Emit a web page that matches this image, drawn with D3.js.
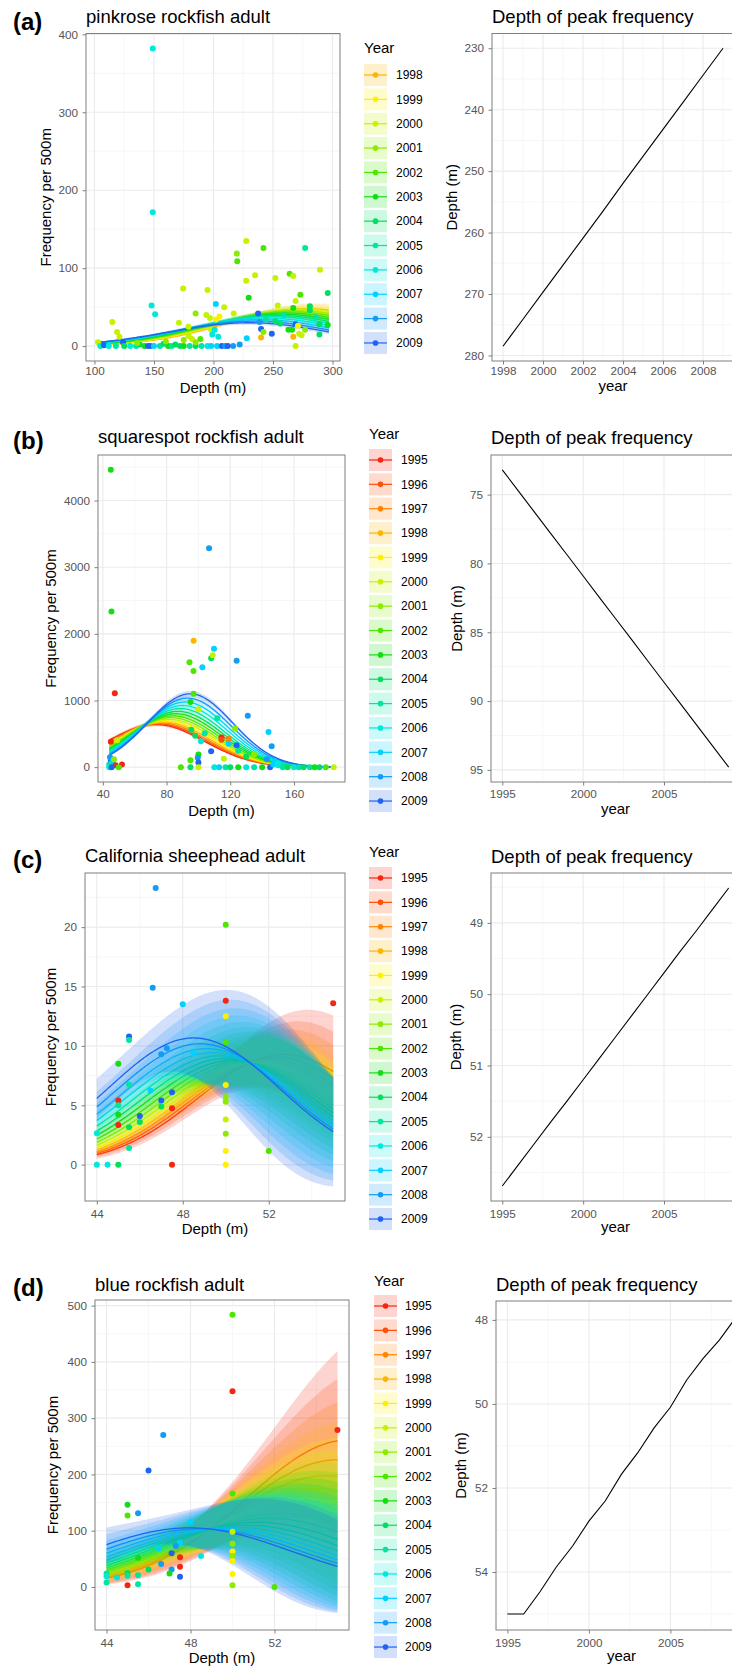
<!DOCTYPE html>
<html><head><meta charset="utf-8">
<script src="https://cdn.jsdelivr.net/npm/d3@7"></script>
<style>
body{margin:0;background:#fff}
svg{display:block}
text{font-family:"Liberation Sans",Arial,Helvetica,sans-serif}
</style>
</head><body>
<svg id="chart" width="732" height="1668"></svg>
<script>
// ---------------- DATA ----------------
const allYears = [1995,1996,1997,1998,1999,2000,2001,2002,2003,2004,2005,2006,2007,2008,2009];
const yearColors = ["#F5260F","#FF4D0A","#FF8400","#FFB400","#FFF000","#C6F200","#8CEB00","#4DE600","#13DD13","#00E060","#00E6A0","#00E8DC","#00D2FF","#129CF5","#1E64F0"];

// (a) pinkrose rockfish adult
const pinkroseYears = [1998,1999,2000,2001,2002,2003,2004,2005,2006,2007,2008,2009];
const pinkrosePeakDepth = [278.5,274.1,269.7,265.3,260.9,256.5,252.0,247.6,243.2,238.8,234.4,230.0];
const pinkroseCurveHeight = [48,47,45.5,44,42.5,41,39.5,38,36,34,32,30];
const pinkroseCurveWidth = 67;
const pinkrosePoints = [
 [149,382,2006],[149,171.6,2006],[148,52,2006],[151,41,2006],[202,54,2007],
 [115,31,2000],[119,18,2000],[121,12,2000],[174.5,74,2000],[195,72,2000],
 [185,42,2001],[194,40,2000],[197,36,2000],[205,38,1999],[209,50,2000],[217,42,2000],
 [219.6,118.7,2001],[220,109,2002],[227.5,135,2000],[227.5,84,2000],[229.6,62,2003],
 [235,91,2000],[242,126,2002],[252,87.5,2000],[254,52,2000],[264,93,2002],[267,90,2000],
 [277,126,2005],[289.5,98,2000],[296,68,2004],[273,66,2002],[269,58,2000],[267,49,2003],
 [281,51,2004],[281,46,2004],[237.5,42,2009],[238.8,31,2008],[240,22,2009],[249,16,2009],
 [269,28,2009],[267,12,1998],[269,0,2000],[240,11,1998],[242,18,2001],[228,10,2007],
 [222,2,2008],[216.5,0,2008],[171,30,2000],[179,25,2000],[189,9,2002],[179,13,2000],
 [182,9,2000],[198,21,2000],[202,34,1999],[201,21,2006],[199,15,2006],[204,12,2006],
 [263,21,2003],[266,21,2003],[271,26,1999],[272,16,2000],[274,14,2000],[277,21,2001],
 [286,37,2005],[289,28,2004],[289,15,2004],[296,27,2003],[259,40,2005],[252,32,2004],
 [244,34,2005],[256,29,2004],
 [103,5,2000],[105,0,2006],[108,1,2009],[112,0,2006],[118,0,2005],[124,5,2009],[125,0,2004],
 [130,0,2006],[135,0,2005],[138,2,2004],[142,0,2003],[145,0,2009],[147,0,2009],[150,0,2007],
 [155,0,2005],[158,3,2004],[162,0,2003],[165,0,2005],[168,2,2004],[172,0,2004],[175,0,2003],
 [180,0,2005],[185,0,2004],[190,0,2005],[195,0,2006],[198,0,2007],[203,0,2007],[207,0,2009],
 [210,0,2008],[212,0,2009],[136,4,2001],[160,6,2001],[175,8,2001],[185,5,2001]
];

// (b) squarespot rockfish adult
const squarespotYears = allYears;
const squarespotPeakDepth = [73.2,74.74,76.29,77.83,79.37,80.91,82.46,84.0,85.54,87.09,88.63,90.17,91.71,93.26,94.8];
const squarespotCurveHeight = [640,650,663,678,696,717,742,768,801,837,879,925,977,1035,1100];
const squarespotCurveWidth = [30.5,30.2,29.9,29.7,29.4,29.1,28.8,28.6,28.3,28.0,27.7,27.5,27.2,26.9,26.6];
const squarespotPoints = [
 [45,4460,2003],[45.4,2334,2003],[47.5,1110,1995],[45,379,1995],[49,405,2000],
 [97,1895,1998],[94.4,1573,2002],[96.9,1443,2002],[102.5,1500,2007],[106.7,3284,2008],
 [109.8,1776,2007],[108,1633,2004],[109,1680,2000],[124,1597,2008],[97,1100,2002],
 [95,976,2003],[100,870,2000],[131,772,2008],[144,528,2007],[146,315,2008],
 [111.8,733,2005],[123,580,2001],[95.5,560,2004],[98,470,2004],[101.6,390,2006],
 [104,510,2005],[114.5,445,1995],[114.5,410,1996],[119,425,1997],[108,240,2009],
 [124,330,2009],[100,190,2003],[95,105,2002],[99.6,140,2008],[100,70,2009],
 [119,350,2007],[125,245,2005],[135,190,2001],[130,160,2004],[116,125,2000],
 [45,100,2009],[46,50,2009],[44.5,150,2008],[46,80,2007],[47,120,2001],[44,40,2005],
 [47.5,30,2006],[48,30,1995],[52,40,1995],[44,0,2006],[45.5,0,2009],
 [50,0,2002],[89,0,2002],[95,0,2004],[100,0,2000],[110,0,2006],[113,0,2007],[117,0,2005],
 [120,0,2004],[125,0,2003],[130,0,2006],[135,0,2005],[140,0,2003],[145,0,2009],[147,40,2007],
 [150,30,2006],[153,0,2005],[156,0,2004],[160,0,2006],[163,0,2005],[166,0,2004],[170,0,2005],
 [173,0,2003],[176,0,2004],[180,0,2002],[185,0,2000],[148,90,2007],[150,60,2006],[143,120,2008]
];

// (c) California sheephead adult
const sheepheadYears = allYears;
const sheepheadPeakDepth = [52.69,52.39,52.09,51.79,51.50,51.20,50.90,50.60,50.30,50.00,49.70,49.40,49.11,48.81,48.51];
const sheepheadCurveHeight = [9.29,9.04,8.85,8.71,8.63,8.59,8.60,8.66,8.78,8.94,9.16,9.44,9.77,10.18,10.67];
const sheepheadCurveWidth = 3.96;
const sheepheadPoints = [
 [46.74,23.3,2008],[50,20.2,2002],[46.6,14.9,2008],[48,13.5,2007],[50,13.8,1995],[55,13.6,1995],
 [50,12.5,1999],[45.5,10.8,2009],[45.5,10.5,2005],[50,10.3,2002],[47.26,9.8,2008],[47,9.3,2008],
 [48.5,9.4,2007],[45,8.5,2003],[45.5,6.75,2005],[46.5,6.25,2007],[50,6.7,1999],[47.5,6.1,2009],
 [47,5.4,2009],[45,5.4,1995],[45,5.0,2005],[47,4.9,2004],[50,5.7,2001],[50,5.3,2001],
 [47.5,4.75,1995],[45,4.2,2003],[46,4.1,2009],[45,3.35,1995],[45.5,3.15,2004],[46,3.6,2004],
 [44,2.65,2006],[50,3.8,2000],[50,2.6,2001],[45.5,1.4,2005],[50,1.15,1999],[52,1.15,2002],
 [44,0,2006],[44.5,0,2006],[45,0,2004],[47.5,0,1995],[50,0,1999]
];

// (d) blue rockfish adult
const blueYears = allYears;
const bluePeakDepth = [55.0,55.0,54.47,53.88,53.38,52.79,52.31,51.67,51.16,50.57,50.08,49.43,48.92,48.48,47.95];
const blueCurvePeak = [55.54,55.0,54.46,53.91,53.37,52.83,52.29,51.75,51.2,50.66,50.12,49.58,49.04,48.49,47.95];
const blueCurveHeight = [261.4,226.0,197.7,174.8,156.8,142.5,131.0,122.0,114.9,109.7,106.1,103.9,102.9,103.3,105.0];
const blueCurveWidth = 4.85;
const bluePoints = [
 [50,483.6,2002],[50,348,1995],[55,279,1995],[46.7,270,2008],[46,207,2009],[45,146,2003],
 [45,127,2002],[45.5,131,2008],[50,166,2002],[48,115,2007],[50,98,2000],[50,77,2001],
 [50,63,1999],[50,55,2001],[50,46,1999],[50,23,1999],[50,3,2001],[52,0,2002],[46.6,41,2008],
 [45.5,52,2003],[46.5,69,2007],[47.5,79,2007],[47.1,60,2009],[47.3,73,2008],[47.5,53,1995],
 [47.5,36,1995],[47.5,18,2009],[47.1,31,2008],[47,24,2003],[48.5,55,2006],[46,31,2004],
 [45,25,2004],[44.5,17,2006],[44,24,2005],[44,19,2006],[44,8,2005],[45.5,5,2005],[45,3,1995],
 [45,20,2005],[45.5,21,2005]
];

// confidence band shape per panel: relative half-width = base + slope*u + curv*u^2,
// each term given as [mid-year, trend, extremes]
const pinkroseBand = [[0.08,0,0],[0,0,0],[0.35,0,0]];
const squarespotBand = [[0.04,0,0],[0,0,0],[0.1,0,0]];
const sheepheadBand = [[0.15,0.04,0.08],[0.2,0.4375,0.1075],[0.8,0.52,0.94]];
const blueBand = [[0.3,-0.05,0.06],[0.2,0.68,0.08],[1.6,1.1,0.63]];

// ticks
const aXTicks=[100,150,200,250,300], aXMinor=[125,175,225,275], aYTicks=[0,100,200,300,400], aYMinor=[50,150,250,350];
const bXTicks=[40,80,120,160], bXMinor=[60,100,140,180], bYTicks=[0,1000,2000,3000,4000], bYMinor=[500,1500,2500,3500,4500];
const cXTicks=[44,48,52], cXMinor=[46,50,54], cYTicks=[0,5,10,15,20], cYMinor=[2.5,7.5,12.5,17.5,22.5];
const dXTicks=[44,48,52], dXMinor=[46,50,54], dYTicks=[0,100,200,300,400,500], dYMinor=[-50,50,150,250,350,450];
const raXTicks=[1998,2000,2002,2004,2006,2008], raXMinor=[1999,2001,2003,2005,2007,2009], raYTicks=[230,240,250,260,270,280], raYMinor=[235,245,255,265,275];
const rbXTicks=[1995,2000,2005], rbXMinor=[1997.5,2002.5,2007.5], rbYTicks=[75,80,85,90,95], rbYMinor=[77.5,82.5,87.5,92.5];
const rcYTicks=[49,50,51,52], rcYMinor=[48.5,49.5,50.5,51.5,52.5];
const rdYTicks=[48,50,52,54], rdYMinor=[49,51,53,55];

// ---------------- DRAWING ----------------
const svg = d3.select("#chart");
const defs = svg.append("defs");
const colorOf = yr => yearColors[allYears.indexOf(yr)];
let clipN = 0;
const GRID_MAJ = "#EBEBEB", GRID_MIN = "#F4F4F4", BORDER = "#7f7f7f", TICKTXT = "#555";

function frame(c, x, y) {
  const g = svg.append("g");
  g.append("rect").attr("x", c.x0).attr("y", c.y0).attr("width", c.x1 - c.x0).attr("height", c.y1 - c.y0).attr("fill", "#fff");
  c.xMinor.forEach(v => g.append("line").attr("x1", x(v)).attr("x2", x(v)).attr("y1", c.y0).attr("y2", c.y1).attr("stroke", GRID_MIN).attr("stroke-width", 0.7));
  c.yMinor.forEach(v => g.append("line").attr("y1", y(v)).attr("y2", y(v)).attr("x1", c.x0).attr("x2", c.x1).attr("stroke", GRID_MIN).attr("stroke-width", 0.7));
  c.xTicks.forEach(v => g.append("line").attr("x1", x(v)).attr("x2", x(v)).attr("y1", c.y0).attr("y2", c.y1).attr("stroke", GRID_MAJ).attr("stroke-width", 1.1));
  c.yTicks.forEach(v => g.append("line").attr("y1", y(v)).attr("y2", y(v)).attr("x1", c.x0).attr("x2", c.x1).attr("stroke", GRID_MAJ).attr("stroke-width", 1.1));
  const id = "clip" + (clipN++);
  defs.append("clipPath").attr("id", id).append("rect").attr("x", c.x0).attr("y", c.y0).attr("width", c.x1 - c.x0).attr("height", c.y1 - c.y0);
  const plot = g.append("g").attr("clip-path", `url(#${id})`);
  return {g, plot};
}

function axesAndBorder(g, c, x, y) {
  g.append("rect").attr("x", c.x0).attr("y", c.y0).attr("width", c.x1 - c.x0).attr("height", c.y1 - c.y0)
    .attr("fill", "none").attr("stroke", BORDER).attr("stroke-width", 1);
  const ax = g.append("g").attr("transform", `translate(0,${c.y1})`)
    .call(d3.axisBottom(x).tickValues(c.xTicks).tickFormat(d3.format("d")).tickSize(3.5));
  ax.select(".domain").remove();
  ax.selectAll("line").attr("stroke", BORDER);
  ax.selectAll("text").attr("fill", TICKTXT).style("font-size", "11.7px").attr("y", c.xLabelBase - c.y1).attr("dy", 0);
  const ay = g.append("g").attr("transform", `translate(${c.x0},0)`)
    .call(d3.axisLeft(y).tickValues(c.yTicks).tickFormat(d3.format("d")).tickSize(3.5).tickPadding(4.5));
  ay.select(".domain").remove();
  ay.selectAll("line").attr("stroke", BORDER);
  ay.selectAll("text").attr("fill", TICKTXT).style("font-size", "11.7px");
  g.append("text").attr("x", (c.x0 + c.x1) / 2).attr("y", c.xTitleBase).attr("text-anchor", "middle")
    .style("font-size", "15px").attr("fill", "#000").text(c.xTitle);
  g.append("text").attr("transform", `translate(${c.yTitleBase},${(c.y0 + c.y1) / 2}) rotate(-90)`).attr("text-anchor", "middle")
    .style("font-size", "15px").attr("fill", "#000").text(c.yTitle);
  g.append("text").attr("x", c.x0).attr("y", c.titleBase).style("font-size", "18.5px").attr("fill", "#000").text(c.title);
}

function leftPanel(c) {
  const x = d3.scaleLinear().domain(c.xDomain).range([c.x0, c.x1]);
  const y = d3.scaleLinear().domain(c.yDomain).range([c.y1, c.y0]);
  const {g, plot} = frame(c, x, y);
  const n = c.years.length;
  const depths = d3.range(0, 161).map(k => c.curveRange[0] + (c.curveRange[1] - c.curveRange[0]) * k / 160);
  const span = c.curveRange[1] - c.curveRange[0];
  const mid = c.bandCenter;
  const coef = (arr, t) => arr[0] + arr[1] * t + arr[2] * t * t;
  c.years.forEach((yr, i) => {
    const P = c.peak[i], H = c.height[i];
    const w = Array.isArray(c.width) ? c.width[i] : c.width;
    const t = 2 * i / (n - 1) - 1;
    const b0 = coef(c.band[0], t), b1 = coef(c.band[1], t), b2 = coef(c.band[2], t);
    const rows = depths.map(d => {
      const mu = H * Math.exp(-((d - P) ** 2) / (2 * w * w));
      const u = (d - mid) / span;
      const rel = Math.max(0.02, b0 + b1 * u + b2 * u * u);
      return {d, mu, lo: mu * (1 - rel), hi: mu * (1 + rel)};
    });
    const col = colorOf(yr);
    plot.append("path").datum(rows).attr("fill", col).attr("fill-opacity", 0.2)
      .attr("d", d3.area().x(r => x(r.d)).y0(r => y(r.lo)).y1(r => y(r.hi)));
    plot.append("path").datum(rows).attr("fill", "none").attr("stroke", col).attr("stroke-width", 1.3)
      .attr("d", d3.line().x(r => x(r.d)).y(r => y(r.mu)));
  });
  plot.selectAll("circle.pt").data(c.points).join("circle").attr("class", "pt")
    .attr("cx", p => x(p[0])).attr("cy", p => y(p[1])).attr("r", 3).attr("fill", p => colorOf(p[2]));
  axesAndBorder(g, c, x, y);
  svg.append("text").attr("x", 13).attr("y", c.labelBase).style("font-size", "24px").style("font-weight", "bold").attr("fill", "#000").text(c.label);
}

function rightPanel(c) {
  const x = d3.scaleLinear().domain(c.xDomain).range([c.x0, c.x1]);
  const y = d3.scaleLinear().domain(c.yDomain).range([c.y0, c.y1]);
  const {g, plot} = frame(c, x, y);
  plot.append("path").datum(c.years.map((yr, i) => [yr, c.values[i]])).attr("fill", "none").attr("stroke", "#000").attr("stroke-width", 1.1)
    .attr("d", d3.line().x(p => x(p[0])).y(p => y(p[1])));
  axesAndBorder(g, c, x, y);
}

function legend(c) {
  const g = svg.append("g");
  g.append("text").attr("x", c.x).attr("y", c.titleBase).style("font-size", "15px").attr("fill", "#000").text("Year");
  c.years.forEach((yr, i) => {
    const cy = c.cy0 + i * 24.36, col = colorOf(yr);
    g.append("rect").attr("x", c.x).attr("y", cy - 11).attr("width", 23).attr("height", 22).attr("fill", col).attr("fill-opacity", 0.2);
    g.append("line").attr("x1", c.x).attr("x2", c.x + 23).attr("y1", cy).attr("y2", cy).attr("stroke", col).attr("stroke-width", 1.2);
    g.append("circle").attr("cx", c.x + 11.5).attr("cy", cy).attr("r", 2.8).attr("fill", col);
    g.append("text").attr("x", c.labelX).attr("y", cy + 4.2).style("font-size", "12px").attr("fill", "#000").text(yr);
  });
}

// ---- Row (a)
leftPanel({x0:86,x1:340,y0:33.5,y1:361,xDomain:[92.9,306.3],yDomain:[-19.1,401.1],
  xTicks:aXTicks,xMinor:aXMinor,yTicks:aYTicks,yMinor:aYMinor,
  years:pinkroseYears,peak:pinkrosePeakDepth,height:pinkroseCurveHeight,width:pinkroseCurveWidth,
  band:pinkroseBand,bandCenter:200,curveRange:[103,297],points:pinkrosePoints,
  title:"pinkrose rockfish adult",titleBase:22.5,label:"(a)",labelBase:30,
  xTitle:"Depth (m)",yTitle:"Frequency per 500m",xLabelBase:375,xTitleBase:392.5,yTitleBase:51});
legend({x:364,labelX:396,titleBase:53.4,cy0:75,years:pinkroseYears});
rightPanel({x0:492,x1:734,y0:33.5,y1:361,xDomain:[1997.45,2009.55],yDomain:[227.6,280.9],
  xTicks:raXTicks,xMinor:raXMinor,yTicks:raYTicks,yMinor:raYMinor,years:pinkroseYears,values:pinkrosePeakDepth,
  title:"Depth of peak frequency",titleBase:23,xTitle:"year",yTitle:"Depth (m)",xLabelBase:375,xTitleBase:391,yTitleBase:457});

// ---- Row (b)
leftPanel({x0:98,x1:345,y0:455,y1:782,xDomain:[36.95,192.05],yDomain:[-223,4683],
  xTicks:bXTicks,xMinor:bXMinor,yTicks:bYTicks,yMinor:bYMinor,
  years:squarespotYears,peak:squarespotPeakDepth,height:squarespotCurveHeight,width:squarespotCurveWidth,
  band:squarespotBand,bandCenter:100,curveRange:[44,185],points:squarespotPoints,
  title:"squarespot rockfish adult",titleBase:443,label:"(b)",labelBase:449,
  xTitle:"Depth (m)",yTitle:"Frequency per 500m",xLabelBase:798,xTitleBase:816,yTitleBase:56});
legend({x:369,labelX:401,titleBase:438.7,cy0:460,years:squarespotYears});
rightPanel({x0:491,x1:740,y0:455,y1:782,xDomain:[1994.3,2009.7],yDomain:[72.12,95.88],
  xTicks:rbXTicks,xMinor:rbXMinor,yTicks:rbYTicks,yMinor:rbYMinor,years:squarespotYears,values:squarespotPeakDepth,
  title:"Depth of peak frequency",titleBase:443.5,xTitle:"year",yTitle:"Depth (m)",xLabelBase:798,xTitleBase:814,yTitleBase:462});

// ---- Row (c)
leftPanel({x0:85,x1:345,y0:873,y1:1201,xDomain:[43.45,55.55],yDomain:[-3.06,24.56],
  xTicks:cXTicks,xMinor:cXMinor,yTicks:cYTicks,yMinor:cYMinor,
  years:sheepheadYears,peak:sheepheadPeakDepth,height:sheepheadCurveHeight,width:sheepheadCurveWidth,
  band:sheepheadBand,bandCenter:48,curveRange:[44,55],points:sheepheadPoints,
  title:"California sheephead adult",titleBase:862,label:"(c)",labelBase:868,
  xTitle:"Depth (m)",yTitle:"Frequency per 500m",xLabelBase:1218,xTitleBase:1234,yTitleBase:56});
legend({x:369,labelX:401,titleBase:857.4,cy0:878,years:sheepheadYears});
rightPanel({x0:491,x1:740,y0:873,y1:1201,xDomain:[1994.3,2009.7],yDomain:[48.30,52.90],
  xTicks:rbXTicks,xMinor:rbXMinor,yTicks:rcYTicks,yMinor:rcYMinor,years:sheepheadYears,values:sheepheadPeakDepth,
  title:"Depth of peak frequency",titleBase:862.5,xTitle:"year",yTitle:"Depth (m)",xLabelBase:1218,xTitleBase:1232,yTitleBase:461});

// ---- Row (d)
leftPanel({x0:95,x1:349,y0:1300,y1:1630,xDomain:[43.45,55.55],yDomain:[-76.5,510],
  xTicks:dXTicks,xMinor:dXMinor,yTicks:dYTicks,yMinor:dYMinor,
  years:blueYears,peak:blueCurvePeak,height:blueCurveHeight,width:blueCurveWidth,
  band:blueBand,bandCenter:48,curveRange:[44,55],points:bluePoints,
  title:"blue rockfish adult",titleBase:1290.5,label:"(d)",labelBase:1296,
  xTitle:"Depth (m)",yTitle:"Frequency per 500m",xLabelBase:1647,xTitleBase:1663,yTitleBase:58});
legend({x:374,labelX:405,titleBase:1285.7,cy0:1306,years:blueYears});
rightPanel({x0:496,x1:747,y0:1301,y1:1630,xDomain:[1994.3,2009.7],yDomain:[47.55,55.38],
  xTicks:rbXTicks,xMinor:rbXMinor,yTicks:rdYTicks,yMinor:rdYMinor,years:blueYears,values:bluePeakDepth,
  title:"Depth of peak frequency",titleBase:1290.5,xTitle:"year",yTitle:"Depth (m)",xLabelBase:1647,xTitleBase:1661,yTitleBase:466});
</script>
</body></html>
